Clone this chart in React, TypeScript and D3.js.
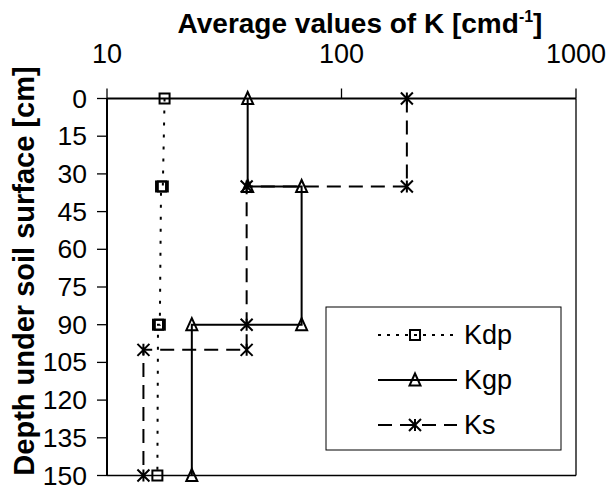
import React from "react";
import * as d3 from "d3";

const xTicks = [10, 100, 1000];
const yTicks = [0, 15, 30, 45, 60, 75, 90, 105, 120, 135, 150];

const kdpDepth = [0, 35, 35, 90, 90, 150];
const kdpValue = [17.6, 17.3, 17.0, 16.8, 16.5, 16.4];

const kgpDepth = [0, 35, 35, 90, 90, 150];
const kgpValue = [39.8, 39.8, 67.6, 67.6, 23.0, 23.0];

const ksDepth = [0, 35, 35, 90, 100, 100, 150];
const ksValue = [190, 190, 39.4, 39.4, 39.4, 14.3, 14.3];

const seriesNames = ["Kdp", "Kgp", "Ks"];

const W = 612;
const H = 487;
const plot = { left: 107, right: 576, top: 98.5, bottom: 475.5 };
const FONT = "'Liberation Sans', Arial, sans-serif";

const x = d3.scaleLog().domain([10, 1000]).range([plot.left, plot.right]);
const y = d3.scaleLinear().domain([0, 150]).range([plot.top, plot.bottom]);

type Kind = "square" | "triangle" | "star";

function Marker({ cx, cy, kind }: { cx: number; cy: number; kind: Kind }) {
  const sw = 2;
  if (kind === "square") {
    const s = 10;
    return <rect x={cx - s / 2} y={cy - s / 2} width={s} height={s} fill="none" stroke="#000" strokeWidth={sw} />;
  }
  if (kind === "triangle") {
    const w = 11, h = 11;
    const p = d3.path();
    p.moveTo(cx, cy - h / 2 - 1);
    p.lineTo(cx + w / 2, cy + h / 2);
    p.lineTo(cx - w / 2, cy + h / 2);
    p.closePath();
    return <path d={p.toString()} fill="none" stroke="#000" strokeWidth={sw} strokeLinejoin="miter" />;
  }
  const r = 6;
  const p = d3.path();
  p.moveTo(cx, cy - r); p.lineTo(cx, cy + r);
  p.moveTo(cx - r, cy - r); p.lineTo(cx + r, cy + r);
  p.moveTo(cx + r, cy - r); p.lineTo(cx - r, cy + r);
  return <path d={p.toString()} fill="none" stroke="#000" strokeWidth={sw} />;
}

const series = [
  { name: seriesNames[0], depth: kdpDepth, value: kdpValue, kind: "square" as Kind, dash: "3 9" },
  { name: seriesNames[1], depth: kgpDepth, value: kgpValue, kind: "triangle" as Kind, dash: undefined },
  { name: seriesNames[2], depth: ksDepth, value: ksValue, kind: "star" as Kind, dash: "14 8" },
];

export default function App() {
  const line = d3
    .line<[number, number]>()
    .x((d) => x(d[1]))
    .y((d) => y(d[0]));

  const legend = { x: 326, y: 307, w: 235, h: 143 };
  const legendRows = [335, 380, 425];
  const legendDash = ["3 6", undefined, "14 8"];

  return (
    <svg width={W} height={H} style={{ position: "absolute", left: 0, top: 0, background: "#fff" }} fontFamily={FONT}>
      <rect x={0} y={0} width={W} height={H} fill="#fff" />
      {/* plot frame */}
      <line x1={plot.left} x2={plot.right} y1={plot.top} y2={plot.top} stroke="#000" strokeWidth={2} />
      <line x1={plot.left} x2={plot.left} y1={plot.top} y2={plot.bottom} stroke="#000" strokeWidth={2} />
      <line x1={plot.right} x2={plot.right} y1={plot.top} y2={plot.bottom} stroke="#000" strokeWidth={1.3} />
      <line x1={plot.left} x2={plot.right} y1={plot.bottom} y2={plot.bottom} stroke="#000" strokeWidth={1.3} />

      {/* x axis (top) */}
      {xTicks.map((t) => (
        <g key={t}>
          <line x1={x(t)} x2={x(t)} y1={plot.top} y2={plot.top - 10} stroke="#000" strokeWidth={1.3} />
          <text x={x(t)} y={63} textAnchor="middle" fontSize={27}>{t}</text>
        </g>
      ))}
      {/* y axis */}
      {yTicks.map((t) => (
        <g key={t}>
          <line x1={plot.left - 10} x2={plot.left} y1={y(t)} y2={y(t)} stroke="#000" strokeWidth={1.3} />
          <text x={87} y={y(t)} dy="0.34em" textAnchor="end" fontSize={26.5}>{t}</text>
        </g>
      ))}

      {/* titles */}
      <text x={360} y={33} textAnchor="middle" fontSize={28} fontWeight="bold">
        Average values of K [cmd<tspan dy={-11} fontSize={16}>-1</tspan><tspan dy={11}>]</tspan>
      </text>
      <text transform={`translate(34, 271) rotate(-90)`} textAnchor="middle" fontSize={29} fontWeight="bold">
        Depth under soil surface [cm]
      </text>

      {/* series */}
      {series.map((s) => {
        const pts = s.depth.map((d, i) => [d, s.value[i]] as [number, number]);
        return (
          <g key={s.name}>
            <path d={line(pts) || ""} fill="none" stroke="#000" strokeWidth={2} strokeDasharray={s.dash} />
            {pts.map((p, i) => (
              <Marker key={i} cx={x(p[1])} cy={y(p[0])} kind={s.kind} />
            ))}
          </g>
        );
      })}

      {/* legend */}
      <rect x={legend.x} y={legend.y} width={legend.w} height={legend.h} fill="#fff" stroke="#000" strokeWidth={1} />
      {series.map((s, i) => (
        <g key={s.name}>
          <line x1={378} x2={457} y1={legendRows[i]} y2={legendRows[i]} stroke="#000" strokeWidth={2} strokeDasharray={legendDash[i]} />
          <Marker cx={415} cy={legendRows[i]} kind={s.kind} />
          <text x={464} y={legendRows[i]} dy="0.35em" fontSize={27}>{s.name}</text>
        </g>
      ))}
    </svg>
  );
}
